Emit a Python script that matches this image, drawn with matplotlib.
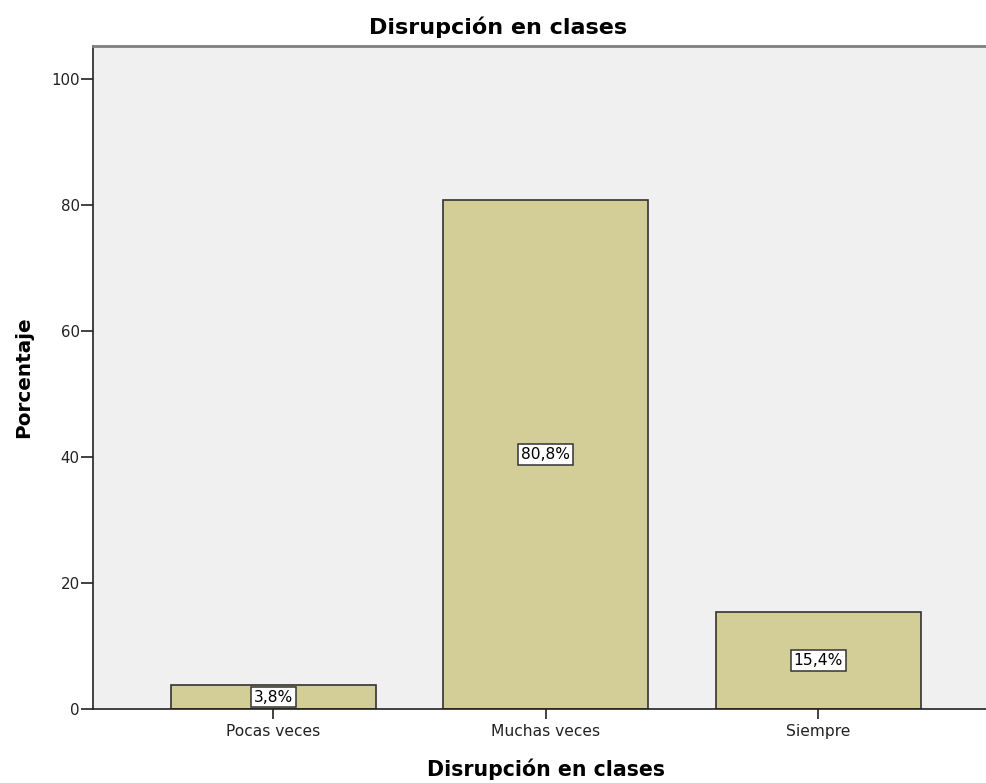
import matplotlib
matplotlib.use("Agg")
from matplotlib import pyplot as plt

categories = ["Pocas veces", "Muchas veces", "Siempre"]
percentages = [3.8, 80.8, 15.4]
value_labels = ["3,8%", "80,8%", "15,4%"]
y_ticks = [0, 20, 40, 60, 80, 100]

plt.rcParams['font.family'] = ['DejaVu Sans']

fig = plt.figure(figsize=(9.87, 7.83), dpi=100)
ax = fig.add_axes([93 / 987, 1 - 709 / 783, 1 - 93 / 987, (709 - 46) / 783])
ax.set_facecolor("#f0f0f0")

x = list(range(len(categories)))
bars = ax.bar(x, percentages, width=0.752, color="#d3ce97",
              edgecolor="#333333", linewidth=1.2, zorder=2)

for xi, val, lbl in zip(x, percentages, value_labels):
    ax.text(xi, val / 2, lbl, ha="center", va="center", fontsize=11.2,
            color="black", zorder=4,
            bbox=dict(boxstyle="square,pad=0.18", facecolor="white",
                      edgecolor="#333333", linewidth=1.1))

ax.set_xlim(-0.662, 2.62)
ax.set_ylim(0, 105.2)
ax.set_xticks(x)
ax.set_xticklabels(categories)
ax.set_yticks(y_ticks)
ax.tick_params(axis="x", length=7, width=1.2, pad=3.5, labelsize=11.2,
               colors="#222222")
ax.tick_params(axis="y", length=8.5, width=1.2, pad=1, labelsize=10.8,
               colors="#222222")

for side in ("left", "bottom"):
    ax.spines[side].set_color("#222222")
    ax.spines[side].set_linewidth(1.2)
ax.spines["top"].set_color("#808080")
ax.spines["top"].set_linewidth(2)
ax.spines["right"].set_visible(False)

ax.set_title("Disrupción en clases", fontsize=16, fontweight="bold",
             x=(498 - 93) / 894, pad=8.5)
ax.set_xlabel("Disrupción en clases", fontsize=14.8, fontweight="bold")
ax.xaxis.set_label_coords((546 - 93) / 894, -0.074)
ax.set_ylabel("Porcentaje", fontsize=14.4, fontweight="bold")
ax.yaxis.set_label_coords(-0.067, 0.5)

fig.savefig("out.png", dpi=100)
